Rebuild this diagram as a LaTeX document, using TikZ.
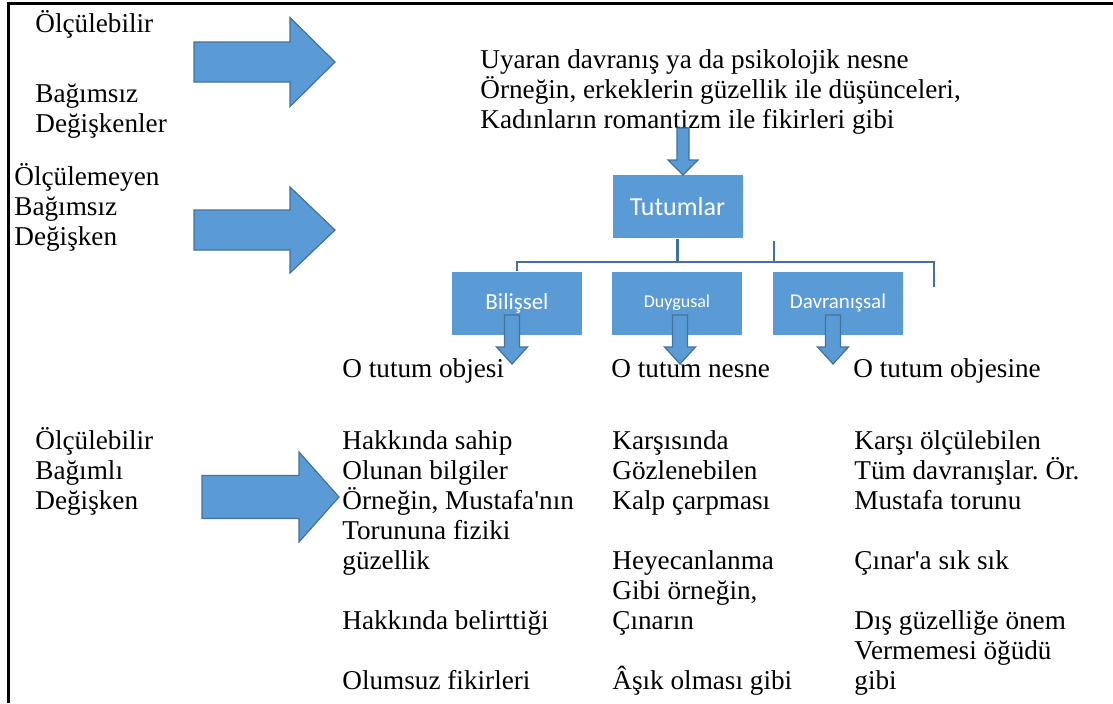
\documentclass[tikz,border=0pt]{standalone}
\usepackage{fontspec}
\setmainfont{Liberation Serif}[Ligatures=TeXOff]
\newfontfamily\boxfont{Carlito}
\usetikzlibrary{positioning}
\definecolor{officeblue}{HTML}{5B9BD5}
\definecolor{arrowedge}{HTML}{41719C}
\frenchspacing
\tikzset{
    txt/.style={anchor=base west, align=left, inner sep=0pt, font=\fontsize{13.6}{15}\selectfont},
    box/.style={fill=officeblue, draw=white, line width=0.5pt, minimum width=65.5pt, minimum height=32pt, inner sep=0pt, text=white},
    blockarrow/.style={fill=officeblue, draw=arrowedge, line width=0.6pt},
    conn/.style={draw=arrowedge, line width=1.2pt}
}

\begin{document}
\begin{tikzpicture}[x=0.5pt,y=-0.5pt]
    \useasboundingbox (0,0) rectangle (1113,703);
    \draw[line width=1.5pt] (1113,3.5) -- (8,3.5) -- (8,703);

    % left column (multi-line texts sit on their last line)
    \node[txt] (Olcu1) at (35,32) {Ölçülebilir};
    \node[txt] (Bag1) at (35,132) {Bağımsız\\Değişkenler};
    \node[txt] (Olcu2) at (14,245) {Ölçülemeyen\\Bağımsız\\Değişken};
    \node[txt] (Olcu3) at (35,509) {Ölçülebilir\\Bağımlı\\Değişken};

    \node[txt] (Uyaran) at (480,128) {Uyaran davranış ya da psikolojik nesne\\Örneğin, erkeklerin güzellik ile düşünceleri,\\Kadınların romantizm ile fikirleri gibi};

    \node[box, font=\boxfont\fontsize{13}{15}\selectfont] (Tutumlar) at (677.5,206.5) {Tutumlar};
    \node[box, font=\boxfont\fontsize{11.5}{14}\selectfont] (Bilissel) at (517,303) {Bilişsel};
    \node[box, font=\boxfont\fontsize{9}{11}\selectfont] (Duygusal) at (677,303) {Duygusal};
    \node[box, font=\boxfont\fontsize{10.5}{13}\selectfont] (Davranissal) at (838,303) {Davranışsal};

    \coordinate (bar) at (0,262);
    \coordinate (stubU) at (774,241);
    \coordinate (stubR) at (934,287);
    \draw[conn] (Tutumlar.south) -- (Tutumlar.south |- bar);
    \draw[conn] (Bilissel.north) -- (Bilissel.north |- bar) -- (stubR |- bar) -- (stubR);
    \draw[conn] (stubU) -- (stubU |- bar);

    \foreach \x/\A in {342/{O tutum objesi}, 611/{O tutum nesne}, 853/{O tutum objesine}}
        \node[txt] at (\x,377) {\A};

    \node[txt] (Biliscol) at (342,689) {Hakkında sahip\\Olunan bilgiler\\Örneğin, Mustafa'nın\\Torununa fiziki\\güzellik\\[15pt]Hakkında belirttiği\\[15pt]Olumsuz fikirleri};
    \node[txt] (Duygucol) at (612,689) {Karşısında\\Gözlenebilen\\Kalp çarpması\\[15pt]Heyecanlanma\\Gibi örneğin,\\Çınarın\\[15pt]Âşık olması gibi};
    \node[txt] (Davrancol) at (854,689) {Karşı ölçülebilen\\Tüm davranışlar. Ör.\\Mustafa torunu\\[15pt]Çınar'a sık sık\\[15pt]Dış güzelliğe önem\\Vermemesi öğüdü\\gibi};

    % big arrows to the right
    \foreach \xa/\xb/\xc/\yc/\s/\h in {194/290/335/62/20/44.5, 194/290/335/230/20/43, 202/299/339/497/21.5/45}
        \draw[blockarrow] (\xa,\yc-\s) -- (\xb,\yc-\s) -- (\xb,\yc-\h) -- (\xc,\yc)
            -- (\xb,\yc+\h) -- (\xb,\yc+\s) -- (\xa,\yc+\s) -- cycle;

    % small arrows down
    \foreach \xc/\yt/\yh/\yp/\s/\h in {683/128/160/175/6/15, 512/315/347/364/7.5/15.5, 680/315/347/364/7.5/15.5, 833/315/347/364/7.5/15.5}
        \draw[blockarrow] (\xc-\s,\yt) -- (\xc+\s,\yt) -- (\xc+\s,\yh) -- (\xc+\h,\yh) -- (\xc,\yp)
            -- (\xc-\h,\yh) -- (\xc-\s,\yh) -- cycle;
\end{tikzpicture}
\end{document}
